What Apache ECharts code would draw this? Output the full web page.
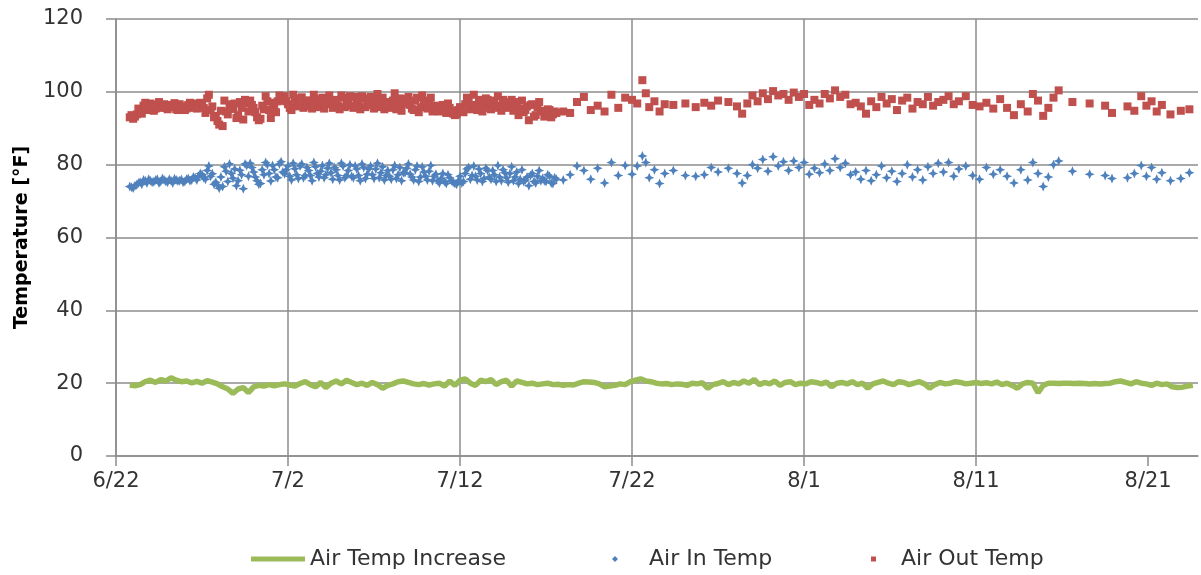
<!DOCTYPE html>
<html>
<head>
<meta charset="utf-8">
<script src="https://cdn.jsdelivr.net/npm/echarts@6/dist/echarts.min.js"></script>
<style>
html,body{margin:0;padding:0;background:#fff;}
#chart{width:1201px;height:575px;}
</style>
</head>
<body>
<div id="chart"></div>
<script>
// x tick labels (every 10 days starting 6/22)
const tickLabels = ['6/22','7/2','7/12','7/22','8/1','8/11','8/21'];
const yTicks = [0,20,40,60,80,100,120];

// days since 6/22 for scatter samples
const scatterDays = [
0.8,1.0,1.2,1.4,1.6,1.8,2.0,2.2,2.4,2.6,
2.8,3.0,3.2,3.4,3.6,3.8,4.0,4.2,4.4,4.6,
4.8,5.0,5.2,5.4,5.6,5.8,6.0,6.2,6.4,6.6,
6.8,7.0,7.2,7.4,7.6,7.8,8.0,8.2,8.4,8.6,
8.8,9.0,9.2,9.4,9.6,9.8,10.0,10.2,10.4,10.6,
10.8,11.0,11.2,11.4,11.6,11.8,12.0,12.2,12.4,12.6,
12.8,13.0,13.2,13.4,13.6,13.8,14.0,14.2,14.4,14.6,
14.8,15.0,15.2,15.4,15.6,15.8,16.0,16.2,16.4,16.6,
16.8,17.0,17.2,17.4,17.6,17.8,18.0,18.2,18.4,18.6,
18.8,19.0,19.2,19.4,19.6,19.8,20.0,20.2,20.4,20.6,
20.8,21.0,21.2,21.4,21.6,21.8,22.0,22.2,22.4,22.6,
22.8,23.0,23.2,23.4,23.6,23.8,24.0,24.2,24.4,24.6,
24.8,25.0,25.2,25.4,25.6,
26.0,26.4,26.8,27.2,27.6,28.0,28.4,28.8,29.2,29.6,
30.0,30.3,30.6,30.8,31.0,31.3,31.6,31.9,32.4,33.1,
33.7,34.2,34.6,35.0,35.6,36.1,36.4,36.7,37.0,37.3,
37.6,37.9,38.2,38.5,38.8,39.1,39.4,39.7,40.0,40.3,
40.6,40.9,41.2,41.5,41.8,42.1,42.4,42.7,43.0,43.3,
43.6,43.9,44.2,44.5,44.8,45.1,45.4,45.7,46.0,46.3,
46.6,46.9,47.2,47.5,47.8,48.1,48.4,48.7,49.0,49.4,
49.8,50.2,50.6,51.0,51.4,51.8,52.2,52.6,53.0,53.3,
53.6,53.9,54.2,54.5,54.8,55.6,56.6,57.5,57.9,58.8,
59.2,59.6,59.9,60.2,60.5,60.8,61.3,61.9,62.4,
0.9,1.1,1.3,1.5,1.7,1.9,2.1,2.3,2.5,2.7,
2.9,3.1,3.3,3.5,3.7,3.9,4.1,4.3,4.5,4.7,
4.9,5.1,5.3,5.5,5.7,5.9,6.1,6.3,6.5,6.7,
6.9,7.1,7.3,7.5,7.7,7.9,8.1,8.3,8.5,8.7,
8.9,9.1,9.3,9.5,9.7,9.9,10.1,10.3,10.5,10.7,
10.9,11.1,11.3,11.5,11.7,11.9,12.1,12.3,12.5,12.7,
12.9,13.1,13.3,13.5,13.7,13.9,14.1,14.3,14.5,14.7,
14.9,15.1,15.3,15.5,15.7,15.9,16.1,16.3,16.5,16.7,
16.9,17.1,17.3,17.5,17.7,17.9,18.1,18.3,18.5,18.7,
18.9,19.1,19.3,19.5,19.7,19.9,20.1,20.3,20.5,20.7,
20.9,21.1,21.3,21.5,21.7,21.9,22.1,22.3,22.5,22.7,
22.9,23.1,23.3,23.5,23.7,23.9,24.1,24.3,24.5,24.7,
24.9,25.1,25.3,25.5
];

const airIn = [
74.0,73.6,74.5,75.2,75.8, 75.0,75.6,75.3,76.0,75.4,
75.8,75.2,75.6,76.1,75.5, 75.9,75.4,76.2,75.8,76.4,
76.8,77.3,76.0,79.6,77.5, 75.2,73.5,74.0,78.2,80.2,
76.3,74.2,78.5,73.4,79.8, 80.4,78.0,75.6,74.8,77.2,
80.0,75.5,78.6,76.4,80.8, 77.5,79.6,75.8,78.9,76.2,
80.2,77.0,78.4,75.6,79.4, 76.6,79.8,77.2,80.4,76.0,
78.6,75.8,79.6,77.0,80.0, 76.4,78.8,75.6,79.2,77.4,
79.6,76.2,80.4,77.8,75.8, 78.4,76.0,79.8,77.2,75.6,
77.8,80.2,76.6,78.6,75.4, 79.4,76.8,78.2,75.6,77.4,
75.0,77.6,74.8,76.4,75.2, 74.6,76.8,75.4,78.8,76.0,
79.6,75.8,77.6,76.2,78.4, 76.0,77.2,79.8,75.6,77.8,
75.2,79.4,76.6,74.8,78.6, 75.8,74.2,77.6,75.0,78.4,
76.2,75.4,76.8,74.8,76.0,
75.8,77.2,79.6,78.4,76.0,79.0,75.0,80.6,77.0,79.8,
77.4,79.6,82.4,80.6,76.4,78.6,74.8,77.6,78.4,77.0,
76.8,77.2,79.2,78.0,79.0,77.6,75.0,77.0,80.0,79.0,
81.4,78.2,82.2,79.6,80.8,78.4,81.0,79.2,80.6,77.4,
79.0,77.8,80.2,78.4,81.6,79.2,80.4,77.2,78.0,76.0,
78.4,75.6,77.2,79.6,76.4,78.2,75.4,77.6,80.0,76.6,
78.6,75.8,79.4,77.6,80.4,78.0,80.6,76.8,78.8,79.6,
77.0,76.0,79.2,77.4,78.6,76.8,75.0,78.6,75.8,80.6,
77.6,74.0,76.6,80.0,81.0,78.2,77.4,77.0,76.2,76.4,
77.6,79.8,76.8,79.2,76.0,77.8,75.6,76.2,77.8,
73.8,74.2,75.0,74.6,75.6, 76.0,75.2,75.8,75.0,76.2,
75.4,76.0,75.0,75.8,75.6, 75.2,76.0,75.6,76.6,75.8,
77.6,76.4,78.4,76.8,74.6, 74.4,76.6,79.4,75.4,77.6,
78.8,75.6,77.2,80.2,76.8, 79.2,76.6,74.6,78.6,80.6,
77.6,79.8,76.6,80.2,78.0, 78.6,76.8,80.4,77.2,79.6,
76.4,79.2,77.0,80.6,77.6, 78.2,76.4,79.0,77.8,79.2,
77.0,80.4,76.4,78.4,76.8, 79.6,77.0,80.2,76.2,78.8,
77.2,78.8,76.4,79.4,77.0, 76.8,78.6,76.2,79.2,77.8,
79.0,77.4,75.8,79.6,76.6, 78.0,75.8,79.8,76.8,75.6,
76.2,75.4,77.2,75.6,74.8, 75.6,75.0,77.6,79.2,77.0,
76.8,78.8,75.4,79.0,76.6, 78.4,75.4,76.6,78.6,76.4,
77.6,75.6,78.0,76.0,75.4, 76.6,77.0,75.4,76.8,75.6,
75.6,77.2,75.0,76.4
];

const airOut = [
93.0,92.6,93.8,94.5,96.2, 95.0,96.8,94.8,96.5,95.6,
96.6,95.2,95.8,96.9,95.0, 95.7,95.0,96.4,95.6,96.8,
95.8,96.5,94.2,99.2,96.0, 93.4,91.0,90.6,94.6,96.0,
95.3,92.8,97.2,92.4,96.8, 97.6,95.6,93.0,92.6,95.2,
97.4,92.8,95.6,97.4,98.6, 98.8,96.6,95.0,97.8,96.0,
98.5,96.2,97.6,95.4,98.0, 95.8,98.4,96.8,99.0,95.6,
97.6,95.2,98.4,96.6,98.8, 95.6,97.8,95.2,98.2,96.4,
98.6,95.4,99.4,97.0,95.2, 97.2,95.6,99.6,96.4,94.8,
96.8,98.6,95.4,97.6,94.4, 99.0,96.0,97.2,94.6,96.2,
94.6,96.4,94.2,95.6,94.0, 93.8,95.8,94.4,98.4,95.2,
99.2,95.0,97.0,95.6,97.8, 95.2,96.8,98.8,94.8,97.2,
95.8,97.8,96.0,93.6,97.6, 95.0,92.2,96.6,93.6,97.2,
94.8,94.2,95.0,93.8,94.2,
94.6,94.2,97.2,98.6,95.0,96.2,94.6,99.2,95.6,98.4,
97.8,96.8,103.2,99.6,95.8,97.4,94.6,96.6,96.4,96.8,
95.8,97.0,96.2,97.6,97.2,96.0,94.0,96.8,99.0,97.4,
99.6,98.0,100.2,99.0,99.4,97.8,99.8,98.6,99.4,96.4,
97.8,96.8,99.4,98.2,100.4,98.6,99.2,96.6,97.0,96.0,
94.0,97.4,95.8,98.6,96.8,98.0,95.0,97.6,98.4,95.4,
97.2,96.6,98.6,96.2,97.2,97.8,98.8,96.6,97.4,98.8,
96.4,96.0,97.0,95.4,98.0,95.6,93.6,96.6,94.6,99.4,
97.6,93.4,95.6,98.4,100.4,97.2,96.8,96.2,94.2,96.0,
94.8,98.8,96.2,97.4,94.6,96.4,93.8,94.8,95.2,
93.6,93.2,95.4,94.0,97.0, 95.8,96.2,95.4,97.2,96.0,
95.6,96.4,95.8,95.2,96.6, 96.0,95.4,97.0,96.2,95.4,
97.0,95.6,98.2,95.0,93.0, 92.0,94.8,97.6,93.8,96.6,
96.8,93.6,95.6,97.8,94.6, 96.4,94.4,92.2,96.2,98.8,
95.0,97.0,94.4,99.0,97.6, 97.4,95.6,99.2,96.4,98.2,
95.6,97.6,96.0,99.2,96.8, 97.4,95.4,98.0,96.6,97.8,
96.2,99.0,95.8,97.4,96.2, 98.6,96.2,98.8,95.8,97.2,
96.4,97.6,95.8,98.4,96.0, 96.0,97.6,95.2,98.2,96.8,
98.0,96.4,95.0,98.4,95.8, 97.6,95.4,98.4,95.8,95.0,
95.4,95.2,96.8,94.8,93.6, 95.0,94.6,96.6,97.8,96.4,
96.2,97.8,94.6,98.2,96.6, 97.6,95.6,96.2,97.8,95.6,
97.0,94.8,97.2,95.4,94.4, 96.0,96.4,93.2,95.8,94.6,
93.2,95.2,93.0,94.6
];

// Air Temp Increase: logged every 0.3 day starting at day 0.8
const lineStartDay = 0.8;
const lineStepDays = 0.3;
const airIncrease = [
19.5,19.3,19.6,20.4,20.8,20.2,21.0,20.6,21.5,20.8,
20.4,20.6,20.1,20.5,20.0,20.7,20.3,19.8,19.0,18.4,
17.2,18.4,18.8,17.4,19.0,19.4,19.2,19.6,19.3,19.6,
19.8,19.5,19.2,19.9,20.4,19.6,19.0,20.2,18.8,20.0,
20.6,19.8,20.8,20.2,19.6,20.0,19.4,20.2,19.6,18.6,
19.4,19.8,20.4,20.6,20.2,19.8,19.6,19.9,19.5,19.8,
20.0,19.2,20.6,19.4,20.8,21.2,20.0,19.4,20.8,20.4,
21.0,19.6,20.4,20.8,19.2,20.6,20.2,19.8,20.0,19.6,
19.8,20.0,19.6,19.7,19.4,19.6,19.5,20.0,20.4,20.3,
20.2,19.8,19.0,19.2,19.4,19.8,19.6,20.4,20.8,21.2,
20.6,20.4,20.0,19.8,19.9,19.6,19.8,19.7,19.4,20.0,
19.8,20.1,18.6,19.6,19.9,20.4,19.6,20.2,19.8,20.6,
20.0,21.0,19.6,20.2,19.8,20.6,19.4,20.2,20.4,19.6,
20.0,19.8,20.4,20.2,19.8,20.3,19.0,20.0,20.2,19.8,
20.4,19.6,20.0,18.6,19.8,20.2,20.6,20.0,19.6,20.4,
20.2,19.6,20.0,20.4,19.8,18.6,19.6,20.2,19.8,20.0,
20.4,20.2,19.8,20.0,20.2,19.9,20.1,19.8,20.3,19.6,
20.0,19.4,18.6,19.8,20.2,20.0,17.4,19.4,20.0,20.0,
19.9,20.0,20.0,19.9,20.0,19.9,19.8,19.9,19.8,19.9,
20.0,20.4,20.6,20.2,19.8,20.4,20.0,19.8,19.4,20.0,
19.6,19.8,19.0,18.8,18.9,19.2,19.4
];

const lineData = airIncrease.map((v, i) => [+(lineStartDay + i * lineStepDays).toFixed(2), v]);
const inData = scatterDays.map((d, i) => [d, airIn[i]]);
const outData = scatterDays.map((d, i) => [d, airOut[i]]);
const xTickValues = tickLabels.map((t, i) => i * 10);

const FONT = 'DejaVu Sans';
const gridColor = '#8c8c8c';
const starPath = 'path://M0,-10 L3,-3 L10,0 L3,3 L0,10 L-3,3 L-10,0 L-3,-3 Z';
const chart = echarts.init(document.getElementById('chart'), null, {renderer: 'canvas'});
chart.setOption({
  animation: false,
  backgroundColor: '#ffffff',
  grid: {left: 116, right: 3, top: 19, bottom: 119, containLabel: false},
  xAxis: {
    type: 'value', min: 0, max: 62.9, interval: 10,
    axisLine: {show: true, lineStyle: {color: gridColor, width: 1.5}},
    axisTick: {show: true, length: 10, inside: false, customValues: xTickValues,
               lineStyle: {color: gridColor, width: 1.5}},
    splitLine: {show: true, showMaxLine: false, lineStyle: {color: gridColor, width: 1.5}},
    axisLabel: {
      margin: 15, color: '#333', fontFamily: FONT, fontSize: 21,
      customValues: xTickValues,
      formatter: v => tickLabels[Math.round(v / 10)] || ''
    }
  },
  yAxis: {
    type: 'value', min: yTicks[0], max: yTicks[yTicks.length - 1], interval: 20,
    name: 'Temperature [°F]', nameLocation: 'middle', nameGap: 80,
    nameTextStyle: {fontFamily: FONT, fontWeight: 'bold', fontSize: 19, color: '#000'},
    axisLine: {show: true, lineStyle: {color: gridColor, width: 1.5}},
    axisTick: {show: true, length: 10, lineStyle: {color: gridColor, width: 1.5}},
    splitLine: {show: true, lineStyle: {color: gridColor, width: 1.5}},
    axisLabel: {margin: 33, color: '#333', fontFamily: FONT, fontSize: 21}
  },
  legend: [
    {data: ['Air Temp Increase'], left: 246, top: 543, itemWidth: 54, itemHeight: 5, icon: 'rect',
     textStyle: {fontFamily: FONT, fontSize: 22, color: '#333'}},
    {data: ['Air In Temp'], left: 607, top: 543, itemWidth: 6, itemHeight: 6, icon: 'diamond',
     textStyle: {fontFamily: FONT, fontSize: 22, color: '#333', padding: [0, 0, 0, 26]}},
    {data: ['Air Out Temp'], left: 866, top: 543, itemWidth: 5, itemHeight: 5, icon: 'rect',
     textStyle: {fontFamily: FONT, fontSize: 22, color: '#333', padding: [0, 0, 0, 20]}}
  ],
  series: [
    {name: 'Air Temp Increase', type: 'line', data: lineData, showSymbol: false, symbol: 'none',
     lineStyle: {color: '#9BBB59', width: 5.5}, itemStyle: {color: '#9BBB59'}, z: 2},
    {name: 'Air In Temp', type: 'scatter', data: inData, symbol: starPath, symbolSize: 10,
     itemStyle: {color: '#4F81BD', opacity: 1}, z: 3},
    {name: 'Air Out Temp', type: 'scatter', data: outData, symbol: 'rect', symbolSize: 8,
     itemStyle: {color: '#C0504D', opacity: 1}, z: 3}
  ]
});
</script>
</body>
</html>
